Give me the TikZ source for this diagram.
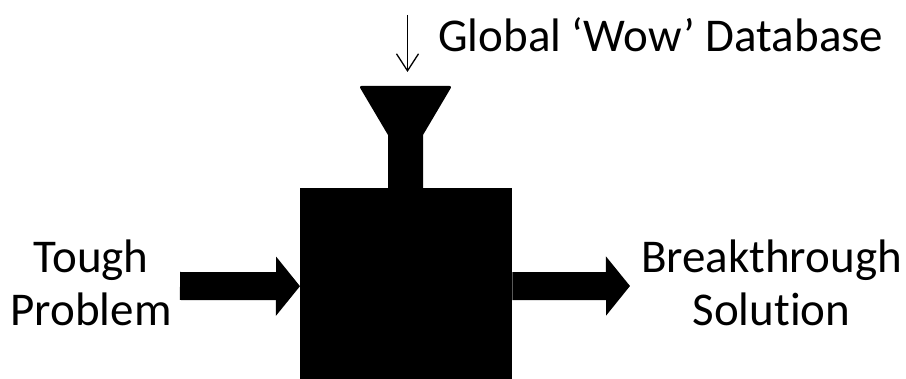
\documentclass[tikz,border=0pt]{standalone}
\usepackage{fontspec}
\setmainfont[Ligatures=NoCommon]{Carlito}
\usetikzlibrary{positioning,arrows.meta}

\begin{document}
\begin{tikzpicture}[x=1pt, y=-1pt,
  lbl/.style={inner sep=0pt, align=center, font=\fontsize{47}{53}\selectfont},
  fat/.style={line width=28pt, -{Triangle[length=24pt,width=58pt]}},
  thin/.style={line width=1.3pt, -{Straight Barb[length=17pt,width=22pt]}}]
\useasboundingbox (0,0) rectangle (906,379);
% machine
\node[fill=black, inner sep=0pt, minimum width=212pt, minimum height=196pt, anchor=north west] (box) at (300,188) {};
\fill (388,189) -- (388,135) [rounded corners=2.5pt] -- (359,86) -- (452,86) [sharp corners] -- (423,135) -- (423,189) -- cycle;
\coordinate (funnel) at (407.5,86);
\coordinate (feed) at (407.5,15);
% labels
\node[lbl, anchor=base] (prob) at (91,326) {Tough\\Problem};
\node[lbl, anchor=base] (sol) at (771.5,326) {Breakthrough\\Solution};
\node[lbl, anchor=base west] (db) at (438,52) {Global ‘Wow’ Database};
% flows
\coordinate (in) at (180,286);
\coordinate (out) at (630,286);
\draw[fat] (in) -- (box.west);
\draw[fat] (box.east) -- (out);
\draw[thin, shorten >=14pt] (feed) -- (funnel);
\end{tikzpicture}
\end{document}
